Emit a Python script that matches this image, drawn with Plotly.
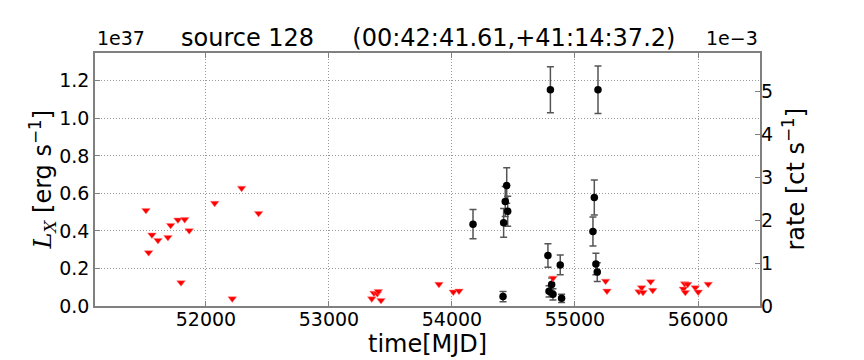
import plotly.graph_objects as go

# detections: time [MJD], luminosity [1e37 erg/s], 1-sigma error
det_mjd = [54171, 54415, 54420, 54433, 54445, 54453, 54780, 54789, 54800,
           54810, 54821, 54880, 54891, 55146, 55157, 55170, 55181, 55187]
det_lx = [0.436, 0.050, 0.443, 0.557, 0.642, 0.505, 0.269, 0.078, 1.152,
          0.114, 0.062, 0.219, 0.041, 0.397, 0.578, 0.224, 0.181, 1.152]
det_err = [0.078, 0.027, 0.077, 0.080, 0.095, 0.080, 0.063, 0.030, 0.123,
           0.035, 0.030, 0.053, 0.022, 0.077, 0.093, 0.057, 0.050, 0.127]

# upper limits
ul_mjd = [51512, 51534, 51561, 51610, 51691, 51713, 51772, 51797, 51827,
          51864, 52071, 52214, 52290, 52428, 53348, 53366, 53393, 53401,
          53423, 53894, 54011, 54057, 54821, 55249, 55260, 55520, 55542,
          55553, 55615, 55632, 55881, 55892, 55897, 55916, 55978, 56002, 56083]
ul_lx = [0.510, 0.285, 0.379, 0.350, 0.366, 0.430, 0.459, 0.125, 0.461,
         0.402, 0.548, 0.039, 0.628, 0.494, 0.039, 0.069, 0.066, 0.078,
         0.030, 0.116, 0.075, 0.080, 0.149, 0.133, 0.080, 0.077, 0.098,
         0.073, 0.130, 0.084, 0.091, 0.119, 0.073, 0.116, 0.098, 0.075, 0.117]

x_ticks = [52000, 53000, 54000, 55000, 56000]
lx_ticks = [0.0, 0.2, 0.4, 0.6, 0.8, 1.0, 1.2]
rate_ticks = [0, 1, 2, 3, 4, 5]

# rate [1e-3 ct/s] per unit of L_X [1e37 erg/s]
rate_per_lx = 4.371
lx_max = 1.348

FONT = "DejaVu Sans"
AXIS_GREY = "#808080"
GRID_GREY = "#999999"

fig = go.Figure()

fig.add_trace(go.Scatter(
    x=det_mjd,
    y=det_lx,
    mode="markers",
    marker=dict(symbol="circle", size=7.5, color="black"),
    error_y=dict(type="data", array=det_err, visible=True,
                 color="#555555", thickness=1.5, width=3.5),
    hoverinfo="skip",
    showlegend=False
))

fig.add_trace(go.Scatter(
    x=ul_mjd,
    y=ul_lx,
    mode="markers",
    marker=dict(symbol="triangle-down", size=7.5, color="red",
                line=dict(width=0.5, color="#ff8080")),
    hoverinfo="skip",
    showlegend=False
))

# same detections on the rate axis, invisible, only so the right axis is drawn
fig.add_trace(go.Scatter(
    x=det_mjd,
    y=[v * rate_per_lx for v in det_lx],
    yaxis="y2",
    mode="markers",
    marker=dict(size=1, color="rgba(0,0,0,0)"),
    hoverinfo="skip",
    showlegend=False
))

fig.update_layout(
    width=864,
    height=360,
    margin=dict(l=95, r=104, t=53, b=54),
    paper_bgcolor="white",
    plot_bgcolor="white",
    font=dict(family=FONT, size=19, color="black"),
    xaxis=dict(
        range=[51098, 56504],
        tickvals=x_ticks,
        ticktext=[str(v) for v in x_ticks],
        ticks="inside",
        ticklen=5,
        tickcolor=AXIS_GREY,
        ticklabelstandoff=-5,
        showline=True,
        linecolor=AXIS_GREY,
        linewidth=1.5,
        mirror="ticks",
        showgrid=True,
        gridcolor=GRID_GREY,
        griddash="1px,2px",
        gridwidth=1,
        zeroline=False,
        automargin=False,
        tickfont=dict(size=19),
    ),
    yaxis=dict(
        range=[0, lx_max],
        tickvals=lx_ticks,
        ticktext=[f"{v:.1f}" for v in lx_ticks],
        ticks="inside",
        ticklen=5,
        tickcolor=AXIS_GREY,
        showline=True,
        linecolor=AXIS_GREY,
        linewidth=1.5,
        mirror=True,
        showgrid=True,
        gridcolor=GRID_GREY,
        griddash="1px,2px",
        gridwidth=1,
        zeroline=False,
        automargin=False,
        tickfont=dict(size=19),
    ),
    yaxis2=dict(
        overlaying="y",
        side="right",
        range=[0, lx_max * rate_per_lx],
        tickvals=rate_ticks,
        ticktext=[str(v) for v in rate_ticks],
        ticks="inside",
        ticklen=5,
        tickcolor=AXIS_GREY,
        showline=False,
        showgrid=False,
        zeroline=False,
        automargin=False,
        tickfont=dict(size=19),
    ),
)

# title and axis labels as annotations for exact placement
fig.add_annotation(
    text="source 128\u00a0\u00a0\u00a0\u00a0\u00a0(00:42:41.61,+41:14:37.2)",
    xref="paper", yref="paper", x=0.5, y=1, yshift=15,
    xanchor="center", yanchor="middle", showarrow=False,
    font=dict(size=24)
)
fig.add_annotation(
    text="time[MJD]",
    xref="paper", yref="paper", x=0.5, y=0, yshift=-38,
    xanchor="center", yanchor="middle", showarrow=False,
    font=dict(size=24)
)
fig.add_annotation(
    text="<span style='font-family:DejaVu Serif'><i>L</i><sub><i>X</i></sub></span> [erg s<sup>\u22121</sup>]",
    xref="paper", yref="paper", x=0, y=0.5, xshift=-53,
    xanchor="center", yanchor="middle", textangle=-90, showarrow=False,
    font=dict(size=24)
)
fig.add_annotation(
    text="rate [ct s<sup>\u22121</sup>]",
    xref="paper", yref="paper", x=1, y=0.5, xshift=33,
    xanchor="center", yanchor="middle", textangle=-90, showarrow=False,
    font=dict(size=24)
)
fig.add_annotation(
    text="1e37",
    xref="paper", yref="paper", x=0, y=1, yshift=2,
    xanchor="left", yanchor="bottom", showarrow=False,
    font=dict(size=19)
)
fig.add_annotation(
    text="1e\u22123",
    xref="paper", yref="paper", x=1, y=1, yshift=2,
    xanchor="right", yanchor="bottom", showarrow=False,
    font=dict(size=19)
)

# drop the browser's default body margin so the figure sits at the page corner
fig.write_html("out.html", config={"displayModeBar": False},
               post_script="document.body.style.margin='0';")
